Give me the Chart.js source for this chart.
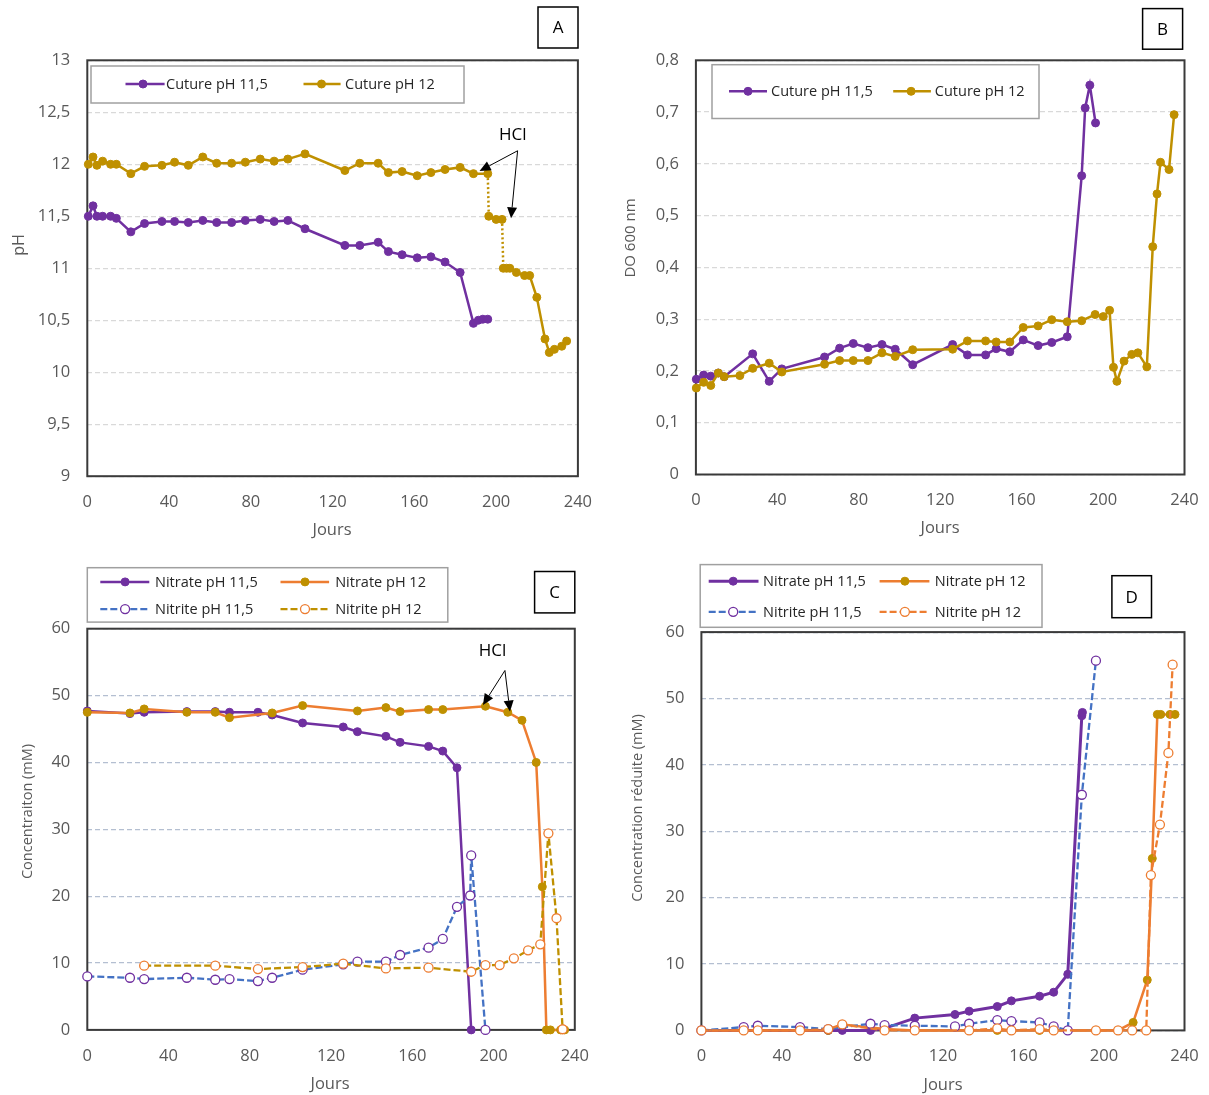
<!DOCTYPE html>
<html lang="fr">
<head>
<meta charset="utf-8">
<title>pH, DO 600 nm, nitrate et nitrite</title>
<script src="https://cdn.jsdelivr.net/npm/chart.js@4.4.1/dist/chart.umd.min.js"></script>
<style>
  html, body { margin: 0; padding: 0; background: #fff; }
  #page { position: relative; width: 1209px; height: 1095px; }
  canvas { position: absolute; }
</style>
</head>
<body>
<div id="page">
  <canvas id="chartA" width="605" height="548" style="left:0;top:0"></canvas>
  <canvas id="chartB" width="604" height="548" style="left:605px;top:0"></canvas>
  <canvas id="chartC" width="605" height="547" style="left:0;top:548px"></canvas>
  <canvas id="chartD" width="604" height="547" style="left:605px;top:548px"></canvas>
</div>
<script>
// ---- data ----
const dayTickLabels = ['0', '40', '80', '120', '160', '200', '240'];
const phTickLabels = ['9', '9,5', '10', '10,5', '11', '11,5', '12', '12,5', '13'];
const odTickLabels = ['0', '0,1', '0,2', '0,3', '0,4', '0,5', '0,6', '0,7', '0,8'];
const concTickLabels = ['0', '10', '20', '30', '40', '50', '60'];

// A - pH
const phDays115 = [0.5, 2.8, 4.7, 7.5, 11.4, 14.2, 21.3, 28, 36.5, 42.7, 49.4, 56.5, 63.3, 70.6, 77.3, 84.6, 91.4, 98.1, 106.5, 126, 133.3, 142.3, 147.3, 154, 161.4, 168.1, 175, 182.4, 188.9, 191.3, 193.5, 195.9];
const ph115 = [11.5, 11.6, 11.5, 11.5, 11.5, 11.48, 11.35, 11.43, 11.45, 11.45, 11.44, 11.46, 11.44, 11.44, 11.46, 11.47, 11.45, 11.46, 11.38, 11.22, 11.22, 11.25, 11.16, 11.13, 11.1, 11.11, 11.06, 10.96, 10.47, 10.5, 10.51, 10.51];
const phDays12 = [0.5, 2.8, 4.7, 7.5, 11.4, 14.2, 21.3, 28, 36.5, 42.7, 49.4, 56.5, 63.3, 70.6, 77.3, 84.6, 91.4, 98.1, 106.5, 126, 133.3, 142.3, 147.3, 154, 161.4, 168.1, 175, 182.4, 188.9, 195.9, 196.4, 200, 202.9, 203.5, 205.1, 206.7, 209.9, 213.9, 216.4, 219.9, 223.9, 226, 228.5, 232.1, 234.5];
const ph12 = [12.0, 12.07, 11.99, 12.03, 12.0, 12.0, 11.91, 11.98, 11.99, 12.02, 11.99, 12.07, 12.01, 12.01, 12.02, 12.05, 12.03, 12.05, 12.1, 11.94, 12.01, 12.01, 11.92, 11.93, 11.89, 11.92, 11.95, 11.97, 11.91, 11.91, 11.5, 11.47, 11.47, 11.0, 11.0, 11.0, 10.96, 10.93, 10.93, 10.72, 10.32, 10.19, 10.22, 10.25, 10.3];

// B - DO 600 nm
const odDays115 = [0.2, 3.8, 7.3, 11, 13.9, 27.9, 36, 42.2, 63.2, 70.6, 77.3, 84.5, 91.4, 97.9, 106.5, 126.1, 133.4, 142.3, 147.5, 154.2, 160.8, 168.1, 174.8, 182.4, 189.5, 191.2, 193.5, 196.3];
const od115 = [0.184, 0.192, 0.19, 0.196, 0.189, 0.233, 0.18, 0.204, 0.227, 0.244, 0.253, 0.245, 0.251, 0.242, 0.212, 0.251, 0.231, 0.231, 0.243, 0.237, 0.26, 0.249, 0.255, 0.266, 0.577, 0.708, 0.752, 0.679];
const odDays12 = [0.2, 3.8, 7.3, 11, 13.9, 21.6, 27.9, 36, 42.2, 63.2, 70.6, 77.3, 84.5, 91.4, 97.9, 106.5, 126.1, 133.4, 142.3, 147.5, 154.2, 160.8, 168.1, 174.8, 182.4, 189.5, 196.1, 200.1, 203.2, 205.1, 206.8, 210.3, 214.1, 217.1, 221.5, 224.4, 226.5, 228.2, 232.4, 234.9];
const od12 = [0.167, 0.178, 0.172, 0.196, 0.189, 0.191, 0.205, 0.215, 0.198, 0.213, 0.22, 0.22, 0.22, 0.235, 0.228, 0.241, 0.242, 0.258, 0.258, 0.256, 0.256, 0.284, 0.287, 0.299, 0.295, 0.297, 0.309, 0.305, 0.317, 0.207, 0.18, 0.219, 0.232, 0.235, 0.208, 0.44, 0.542, 0.603, 0.589, 0.695];

// C - concentration (mM)
const no3Days115 = [0, 21, 28, 49, 63, 70, 84, 91, 106, 126, 133, 147, 154, 168, 175, 182, 189];
const no3_115 = [47.7, 47.3, 47.5, 47.6, 47.6, 47.5, 47.5, 47.1, 45.9, 45.3, 44.6, 43.9, 43.0, 42.4, 41.7, 39.2, 0];
const no3Days12 = [0, 21, 28, 49, 63, 70, 91, 106, 133, 147, 154, 168, 175, 196, 207, 214, 221, 224, 226, 228, 233, 235];
const no3_12 = [47.5, 47.4, 48.0, 47.5, 47.5, 46.7, 47.4, 48.5, 47.7, 48.2, 47.6, 47.9, 47.9, 48.4, 47.5, 46.3, 40.0, 21.4, 0, 0, 0, 0];
const no2Days115 = [0, 21, 28, 49, 63, 70, 84, 91, 106, 126, 133, 147, 154, 168, 175, 182, 188.5, 189, 196];
const no2_115 = [8.0, 7.8, 7.6, 7.8, 7.5, 7.6, 7.3, 7.8, 9.0, 9.8, 10.2, 10.2, 11.2, 12.3, 13.6, 18.4, 20.1, 26.1, 0];
const no2Days12 = [28, 63, 84, 106, 126, 147, 168, 189, 196, 203, 210, 217, 223, 227, 231, 234];
const no2_12 = [9.6, 9.6, 9.1, 9.4, 9.9, 9.2, 9.3, 8.7, 9.7, 9.7, 10.7, 11.9, 12.8, 29.4, 16.7, 0.1];

// D - concentration reduite (mM)
const redNo3Days115 = [0, 21, 28, 49, 63, 70, 84, 91, 106, 126, 133, 147, 154, 168, 175, 182, 189, 189.3];
const redNo3_115 = [0, 0, 0, 0, 0, 0, 0, 0.3, 1.85, 2.4, 2.9, 3.6, 4.45, 5.15, 5.75, 8.45, 47.4, 47.9];
const redNo3Days12 = [0, 21, 28, 49, 63, 70, 91, 106, 133, 147, 154, 168, 175, 196, 207, 214.5, 221.5, 224, 226.5, 228.2, 232.8, 235.3];
const redNo3_12 = [0, 0, 0, 0, 0, 0.9, 0.2, 0, 0, 0, 0, 0, 0, 0, 0, 1.2, 7.6, 25.9, 47.6, 47.6, 47.6, 47.6];
const redNo2Days115 = [0, 21, 28, 49, 63, 84, 91, 106, 126, 133, 147, 154, 168, 175, 182, 189, 196];
const redNo2_115 = [0, 0.5, 0.7, 0.5, 0.2, 1.0, 0.8, 0.7, 0.6, 1.0, 1.55, 1.4, 1.2, 0.6, 0, 35.5, 55.7];
const redNo2Days12 = [0, 21, 28, 49, 63, 70, 91, 106, 133, 147, 154, 168, 175, 196, 207, 214, 221, 223.3, 227.8, 232, 234.1];
const redNo2_12 = [0, 0, 0, 0, 0.2, 0.9, 0, 0, 0, 0.3, 0, 0.2, 0, 0, 0, 0, 0, 23.4, 31, 41.8, 55.1];

// ---- styling ----
const FONT = "'Open Sans', 'Noto Sans', 'DejaVu Sans', sans-serif";
const PURPLE = '#7030A0', GOLD = '#BF9000', ORANGE = '#ED7D31', BLUE = '#4472C4';
Chart.defaults.font.family = FONT;
Chart.defaults.color = '#595959';

function pts(days, vals) {
    return days.map((d, i) => ({ x: d, y: vals[i] }));
}

function solid(label, days, vals, line, marker, width) {
    return {
        label, data: pts(days, vals),
        borderColor: line, backgroundColor: marker,
        pointBackgroundColor: marker, pointBorderColor: marker,
        pointBorderWidth: 1, pointRadius: 4, borderWidth: width || 2.5,
        tension: 0, clip: false
    };
}

function dashed(label, days, vals, line, marker, width) {
    return {
        label, data: pts(days, vals),
        borderColor: line, backgroundColor: '#fff', borderDash: [7, 3],
        pointBackgroundColor: '#fff', pointBorderColor: marker,
        pointBorderWidth: 1.3, pointRadius: 4.5, borderWidth: width || 2.3,
        tension: 0, clip: false
    };
}

// frame, titles, legend box, panel letter and HCl arrows
const panelDecor = {
    id: 'panelDecor',
    beforeDatasetsDraw(chart) {
        const { ctx, chartArea: a } = chart;
        ctx.save();
        ctx.strokeStyle = '#3a3a3a';
        ctx.lineWidth = 2;
        ctx.strokeRect(a.left, a.top, a.width, a.height);
        ctx.restore();
    },
    afterDraw(chart, args, o) {
        const ctx = chart.ctx;
        ctx.save();
        ctx.fillStyle = '#595959';
        ctx.textAlign = 'center';
        ctx.textBaseline = 'middle';
        ctx.font = '16.5px ' + FONT;
        ctx.fillText(o.xTitle.text, o.xTitle.x, o.xTitle.y);
        ctx.save();
        ctx.translate(o.yTitle.x, o.yTitle.y);
        ctx.rotate(-Math.PI / 2);
        ctx.font = o.yTitle.size + 'px ' + FONT;
        ctx.fillText(o.yTitle.text, 0, 0);
        ctx.restore();

        // legend
        const lg = o.legend;
        ctx.fillStyle = '#fff';
        ctx.fillRect(...lg.box);
        ctx.strokeStyle = '#a0a0a0';
        ctx.lineWidth = 1.5;
        ctx.strokeRect(...lg.box);
        lg.items.forEach((it) => {
            const ds = chart.data.datasets[it.ds];
            ctx.save();
            ctx.strokeStyle = ds.borderColor;
            ctx.lineWidth = ds.borderWidth;
            ctx.setLineDash(ds.borderDash || []);
            ctx.beginPath();
            ctx.moveTo(it.x1, it.y);
            ctx.lineTo(it.x2, it.y);
            ctx.stroke();
            ctx.setLineDash([]);
            ctx.beginPath();
            ctx.arc(it.xm, it.y, ds.pointRadius, 0, Math.PI * 2);
            ctx.fillStyle = ds.pointBackgroundColor;
            ctx.fill();
            ctx.lineWidth = ds.pointBorderWidth;
            ctx.strokeStyle = ds.pointBorderColor;
            ctx.stroke();
            ctx.fillStyle = '#262626';
            ctx.font = '14.5px ' + FONT;
            ctx.textAlign = 'left';
            ctx.textBaseline = 'middle';
            ctx.fillText(ds.label, it.xt, it.y + 1);
            ctx.restore();
        });

        // panel letter
        const L = o.letter;
        ctx.fillStyle = '#fff';
        ctx.fillRect(L.x, L.y, L.w, L.h);
        ctx.strokeStyle = '#000';
        ctx.lineWidth = 1.5;
        ctx.strokeRect(L.x, L.y, L.w, L.h);
        ctx.fillStyle = '#000';
        ctx.font = '17px ' + FONT;
        ctx.textAlign = 'center';
        ctx.fillText(L.text, L.x + L.w / 2, L.y + L.h / 2 + 1);

        // HCl annotation
        if (o.hcl) {
            const xs = chart.scales.x, ys = chart.scales.y;
            const px = (p) => [xs.getPixelForValue(p[0]), ys.getPixelForValue(p[1])];
            const t = px(o.hcl.label);
            ctx.font = '17px ' + FONT;
            ctx.fillStyle = '#000';
            ctx.fillText('HCl', t[0], t[1]);
            const from = px(o.hcl.from);
            o.hcl.to.forEach((p) => {
                const tip = px(p);
                const ang = Math.atan2(tip[1] - from[1], tip[0] - from[0]);
                const hl = 11, hw = 5;
                const bx = tip[0] - hl * Math.cos(ang), by = tip[1] - hl * Math.sin(ang);
                ctx.strokeStyle = '#000';
                ctx.lineWidth = 1;
                ctx.beginPath();
                ctx.moveTo(from[0], from[1]);
                ctx.lineTo(bx, by);
                ctx.stroke();
                ctx.beginPath();
                ctx.moveTo(tip[0], tip[1]);
                ctx.lineTo(bx + hw * Math.sin(ang), by - hw * Math.cos(ang));
                ctx.lineTo(bx - hw * Math.sin(ang), by + hw * Math.cos(ang));
                ctx.closePath();
                ctx.fill();
            });
        }
        ctx.restore();
    }
};

// plot area edges are given in canvas pixels; the axes fill the margins
function makeChart(id, datasets, cfg) {
    datasets.forEach((d, i) => { d.order = datasets.length - i; });
    const canvas = document.getElementById(id);
    const a = cfg.area;
    const yW = a.left - 2, xH = canvas.height - a.bottom - 2;
    return new Chart(canvas, {
        type: 'line',
        data: { datasets },
        options: {
            responsive: false,
            animation: false,
            devicePixelRatio: 1,
            layout: { padding: { left: 2, top: a.top, right: canvas.width - a.right, bottom: 2 } },
            events: [],
            plugins: {
                legend: { display: false },
                tooltip: { enabled: false },
                panelDecor: cfg.decor
            },
            scales: {
                x: {
                    type: 'linear', min: 0, max: 240,
                    afterFit: (s) => { s.height = xH; s.paddingLeft = 0; s.paddingRight = 0; },
                    ticks: {
                        stepSize: 40, padding: 16, autoSkip: false, maxRotation: 0,
                        font: { size: 16.5 }, color: '#595959',
                        callback: (v, i) => dayTickLabels[i]
                    },
                    grid: { display: false, drawTicks: false },
                    border: { display: false }
                },
                y: {
                    type: 'linear', min: cfg.yMin, max: cfg.yMax,
                    afterFit: (s) => { s.width = yW; s.paddingTop = 0; s.paddingBottom = 0; },
                    ticks: {
                        stepSize: cfg.yStep, padding: 17, autoSkip: false,
                        font: { size: 16.5 }, color: '#595959',
                        callback: (v, i) => cfg.yLabels[i]
                    },
                    grid: { color: cfg.gridColor, lineWidth: 1.2, drawTicks: false },
                    border: { display: false, dash: [5, 3] }
                }
            }
        },
        plugins: [panelDecor]
    });
}

// A
const ph12Set = solid('Cuture pH 12', phDays12, ph12, GOLD, GOLD);
ph12Set.segment = {
    borderDash: (c) => (c.p0.parsed.y - c.p1.parsed.y > 0.3 && c.p1.parsed.x - c.p0.parsed.x < 1) ? [2, 2.5] : undefined
};
makeChart('chartA', [
    solid('Cuture pH 11,5', phDays115, ph115, PURPLE, PURPLE),
    ph12Set
], {
    area: { left: 87.3, top: 60.3, right: 577.9, bottom: 476.2 },
    yMin: 9, yMax: 13, yStep: 0.5, yLabels: phTickLabels, gridColor: '#d9d9d9',
    decor: {
        xTitle: { text: 'Jours', x: 332, y: 530 },
        yTitle: { text: 'pH', x: 19, y: 245, size: 16 },
        legend: {
            box: [91, 66, 373, 37],
            items: [
                { ds: 0, x1: 125.5, x2: 164.6, xm: 143, xt: 166, y: 84 },
                { ds: 1, x1: 303.5, x2: 340.6, xm: 321.5, xt: 345, y: 84 }
            ]
        },
        letter: { x: 538, y: 7, w: 40, h: 41, text: 'A' },
        hcl: { label: [208.1, 12.28], from: [210.5, 12.13], to: [[191.9, 11.935], [207.3, 11.48]] }
    }
});

// B
makeChart('chartB', [
    solid('Cuture pH 11,5', odDays115, od115, PURPLE, PURPLE),
    solid('Cuture pH 12', odDays12, od12, GOLD, GOLD)
], {
    area: { left: 90.9, top: 60.3, right: 579.5, bottom: 474.5 },
    yMin: 0, yMax: 0.8, yStep: 0.1, yLabels: odTickLabels, gridColor: '#d9d9d9',
    decor: {
        xTitle: { text: 'Jours', x: 335, y: 528.6 },
        yTitle: { text: 'DO 600 nm', x: 26, y: 238, size: 15 },
        legend: {
            box: [107, 64.7, 327, 53.8],
            items: [
                { ds: 0, x1: 124, x2: 162, xm: 143, xt: 166, y: 91.3 },
                { ds: 1, x1: 288.2, x2: 325.9, xm: 306.1, xt: 329.8, y: 91.3 }
            ]
        },
        letter: { x: 537.6, y: 8.6, w: 40, h: 40.6, text: 'B' }
    }
});

// C
makeChart('chartC', [
    solid('Nitrate pH 11,5', no3Days115, no3_115, PURPLE, PURPLE),
    solid('Nitrate pH 12', no3Days12, no3_12, ORANGE, GOLD),
    dashed('Nitrite pH 11,5', no2Days115, no2_115, BLUE, PURPLE),
    dashed('Nitrite pH 12', no2Days12, no2_12, GOLD, ORANGE)
], {
    area: { left: 87.3, top: 80.7, right: 574.8, bottom: 481.9 },
    yMin: 0, yMax: 60, yStep: 10, yLabels: concTickLabels, gridColor: '#b4bfd1',
    decor: {
        xTitle: { text: 'Jours', x: 330, y: 536.3 },
        yTitle: { text: 'Concentraiton (mM)', x: 27.6, y: 263.5, size: 14.5 },
        legend: {
            box: [87.3, 19.7, 360.5, 54.4],
            items: [
                { ds: 0, x1: 100.3, x2: 149.3, xm: 125.1, xt: 155, y: 33.9 },
                { ds: 1, x1: 280.5, x2: 329.1, xm: 305, xt: 335.2, y: 33.9 },
                { ds: 2, x1: 100.3, x2: 149.3, xm: 125.1, xt: 155, y: 61.1 },
                { ds: 3, x1: 280.5, x2: 329.1, xm: 305, xt: 335.2, y: 61.1 }
            ]
        },
        letter: { x: 534.6, y: 23.5, w: 40.2, h: 41.4, text: 'C' },
        hcl: { label: [199.5, 56.7], from: [205.6, 53.75], to: [[194.8, 48.6], [208.1, 47.6]] }
    }
});

// D
makeChart('chartD', [
    solid('Nitrate pH 11,5', redNo3Days115, redNo3_115, PURPLE, PURPLE, 3),
    solid('Nitrate pH 12', redNo3Days12, redNo3_12, ORANGE, GOLD),
    dashed('Nitrite pH 11,5', redNo2Days115, redNo2_115, BLUE, PURPLE),
    dashed('Nitrite pH 12', redNo2Days12, redNo2_12, ORANGE, ORANGE)
], {
    area: { left: 96.4, top: 84.1, right: 579.5, bottom: 482.4 },
    yMin: 0, yMax: 60, yStep: 10, yLabels: concTickLabels, gridColor: '#b4bfd1',
    decor: {
        xTitle: { text: 'Jours', x: 338, y: 537.3 },
        yTitle: { text: 'Concentration réduite (mM)', x: 32.7, y: 260, size: 14.5 },
        legend: {
            box: [95.2, 16.6, 341.8, 62.7],
            items: [
                { ds: 0, x1: 103.7, x2: 153.5, xm: 128.2, xt: 158.1, y: 33.2 },
                { ds: 1, x1: 274.6, x2: 324.4, xm: 299.9, xt: 329.8, y: 33.2 },
                { ds: 2, x1: 103.7, x2: 153.5, xm: 128.2, xt: 158.1, y: 63.8 },
                { ds: 3, x1: 274.6, x2: 324.4, xm: 299.9, xt: 329.8, y: 63.8 }
            ]
        },
        letter: { x: 506.9, y: 27.7, w: 39.6, h: 42, text: 'D' }
    }
});
</script>
</body>
</html>
